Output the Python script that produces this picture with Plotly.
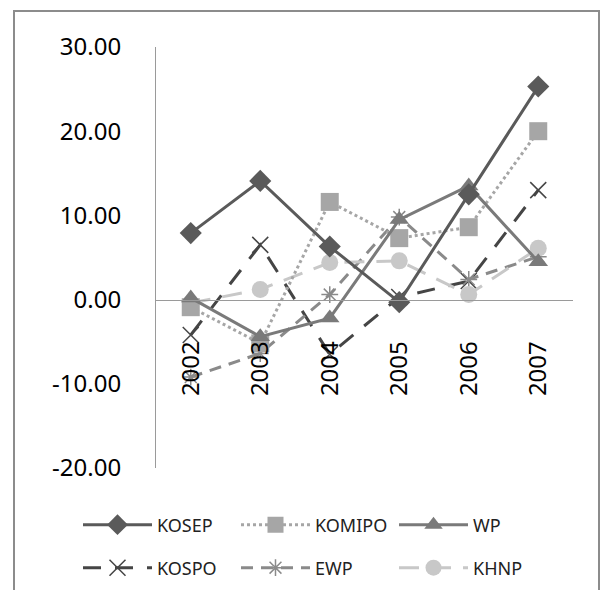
import plotly.graph_objects as go

years = ["2002", "2003", "2004", "2005", "2006", "2007"]
kosep = [7.9, 14.1, 6.3, -0.3, 12.5, 25.3]
komipo = [-0.9, -5.2, 11.6, 7.3, 8.6, 20.0]
wp = [0.2, -4.4, -2.2, 9.5, 13.5, 4.5]
kospo = [-4.2, 6.5, -6.5, 0.3, 2.2, 13.0]
ewp = [-9.2, -6.4, 0.6, 9.8, 2.4, 5.1]
khnp = [-0.4, 1.2, 4.4, 4.6, 0.6, 6.1]
y_ticks = [-20, -10, 0, 10, 20, 30]
y_tick_text = [f"{v:.2f}" for v in y_ticks]

FONT = "Noto Sans"
fig = go.Figure()

def add(name, vals, color, dash, symbol, size, legend, rank, mline=None, lw=3):
    marker = dict(symbol=symbol, size=size, color=color)
    if mline:
        marker["line"] = dict(color=mline, width=1.5)
    fig.add_trace(go.Scatter(
        x=years, y=vals, name=name, mode="lines+markers",
        line=dict(color=color, width=lw, dash=dash),
        marker=marker, legend=legend, legendrank=rank,
    ))

add("KOSPO", kospo, "#454545", "18px,14px", "x-thin-open", 16, "legend2", 1, mline="#555555")
add("EWP", ewp, "#8a8a8a", "12px,8px", "asterisk-open", 14, "legend2", 2, mline="#8a8a8a")
add("KHNP", khnp, "#c8c8c8", "20px,12px", "circle", 17, "legend2", 3)
add("KOMIPO", komipo, "#a6a6a6", "dot", "square", 18, "legend", 2)
add("WP", wp, "#7a7a7a", "solid", "triangle-up", 17, "legend", 3)
add("KOSEP", kosep, "#5a5a5a", "solid", "diamond", 17, "legend", 1)

W, H = 601, 590
L, R, T, B = 156, 28, 47, 122
pw, ph = W - L - R, H - T - B

def px(x):
    return (x - L) / pw

def py(y):
    return (H - B - y) / ph

leg_common = dict(
    orientation="h", xanchor="left", yanchor="middle",
    font=dict(size=18, family=FONT, color="#222222"),
    entrywidth=74, entrywidthmode="pixels", traceorder="normal",
    itemwidth=69, bgcolor="rgba(0,0,0,0)",
)

fig.update_layout(
    width=W, height=H,
    margin=dict(l=L, r=R, t=T, b=B, autoexpand=False),
    paper_bgcolor="white", plot_bgcolor="white",
    font=dict(family=FONT, color="black"),
    xaxis=dict(
        type="category", range=[-0.5, 5.5], anchor="free", position=0.4,
        showline=True, linecolor="#9a9a9a", linewidth=1,
        showgrid=False, zeroline=False, ticks="", tickangle=-90,
        tickfont=dict(size=24, family=FONT), ticklabelstandoff=31,
        automargin=False,
    ),
    yaxis=dict(
        range=[-20, 30], tickvals=y_ticks, ticktext=y_tick_text,
        showline=True, linecolor="#9a9a9a", linewidth=1,
        showgrid=False, zeroline=False, ticks="",
        tickfont=dict(size=24, family=FONT), ticklabelstandoff=29,
        automargin=False,
    ),
    legend=dict(x=px(78), y=py(525), **leg_common),
    legend2=dict(x=px(78), y=py(568), **leg_common),
    shapes=[dict(
        type="rect", xref="paper", yref="paper",
        x0=px(14), x1=px(599), y0=py(600), y1=py(11),
        line=dict(color="#8c8c8c", width=2), layer="below",
    )],
)

fig.write_html("out.html")
